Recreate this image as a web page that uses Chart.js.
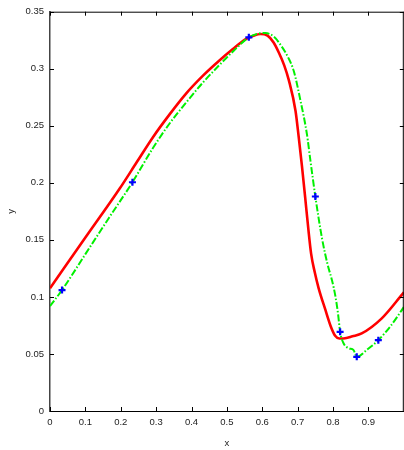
<!DOCTYPE html>
<html>
<head>
<meta charset="utf-8">
<script src="https://cdn.jsdelivr.net/npm/chart.js@4.4.1/dist/chart.umd.min.js"></script>
<style>
html,body{margin:0;padding:0;background:#fff;overflow:hidden;width:404px;height:450px;}
#wrap{width:410px;height:450px;}
</style>
</head>
<body>
<div id="wrap"><canvas id="c" width="410" height="450"></canvas></div>
<script>
// Red solid curve
const redX = [0, 0.1, 0.197, 0.245, 0.291, 0.338, 0.384, 0.431, 0.478, 0.516, 0.553, 0.575, 0.595, 0.615, 0.632, 0.647, 0.662, 0.675, 0.694, 0.703, 0.712, 0.721, 0.730, 0.738, 0.748, 0.759, 0.778, 0.795, 0.806, 0.818, 0.83, 0.855, 0.881, 0.937, 1.0];
const redY = [0.1076, 0.152, 0.195, 0.218, 0.240, 0.260, 0.278, 0.2935, 0.307, 0.317, 0.326, 0.329, 0.3305, 0.329, 0.323, 0.314, 0.303, 0.290, 0.263, 0.240, 0.215, 0.188, 0.160, 0.138, 0.122, 0.108, 0.089, 0.073, 0.066, 0.0635, 0.0636, 0.0655, 0.068, 0.081, 0.104];
// Green dash-dot curve
const greenX = [0, 0.034, 0.1, 0.166, 0.233, 0.291, 0.338, 0.384, 0.431, 0.478, 0.52, 0.562, 0.585, 0.609, 0.633, 0.656, 0.673, 0.689, 0.708, 0.726, 0.736, 0.750, 0.769, 0.785, 0.797, 0.807, 0.814, 0.820, 0.830, 0.845, 0.858, 0.867, 0.897, 0.928, 0.964, 1.0];
const greenY = [0.092, 0.106, 0.1375, 0.169, 0.2005, 0.2305, 0.252, 0.270, 0.2875, 0.303, 0.316, 0.3275, 0.3305, 0.3313, 0.328, 0.319, 0.310, 0.298, 0.272, 0.243, 0.2196, 0.188, 0.151, 0.128, 0.1146, 0.100, 0.0855, 0.0694, 0.0592, 0.055, 0.0534, 0.0475, 0.054, 0.0621, 0.075, 0.091];
// Blue "+" markers
const blueX = [0.034, 0.233, 0.562, 0.750, 0.820, 0.867, 0.928];
const blueY = [0.106, 0.2005, 0.3275, 0.188, 0.0694, 0.0475, 0.0621];
// Axis settings
const xRange = [0, 1];
const yRange = [0, 0.35];
const xStep = 0.1;
const yStep = 0.05;

const pts = (xs, ys) => xs.map((x, i) => ({x: x, y: ys[i]}));
const fmt = v => String(Math.round(v * 100) / 100);
const FONT = {family: 'Liberation Sans, Arial, sans-serif', size: 9.5};

const tickPlugin = {
  id: 'inTicks',
  afterDraw(chart) {
    const ctx = chart.ctx, a = chart.chartArea;
    const xs = chart.scales.x, ys = chart.scales.y;
    ctx.save();
    ctx.lineWidth = 1;
    ctx.strokeStyle = '#000';
    ctx.beginPath();
    ctx.moveTo(a.left, a.top + 0.5); ctx.lineTo(a.right, a.top + 0.5);
    ctx.moveTo(a.right - 0.5, a.top); ctx.lineTo(a.right - 0.5, a.bottom);
    xs.ticks.forEach(t => {
      const p = Math.round(xs.getPixelForValue(t.value)) + 0.5;
      ctx.moveTo(p, a.bottom); ctx.lineTo(p, a.bottom - 4);
      ctx.moveTo(p, a.top); ctx.lineTo(p, a.top + 4);
    });
    ys.ticks.forEach(t => {
      const p = Math.round(ys.getPixelForValue(t.value)) + 0.5;
      ctx.moveTo(a.left, p); ctx.lineTo(a.left + 4, p);
      ctx.moveTo(a.right, p); ctx.lineTo(a.right - 4, p);
    });
    ctx.stroke();
    ctx.restore();
  }
};

new Chart(document.getElementById('c'), {
  type: 'scatter',
  data: {
    datasets: [
      {data: pts(blueX, blueY), showLine: false, pointStyle: 'cross', pointRadius: 3.5, pointBorderWidth: 2.2, borderColor: '#0000ff', backgroundColor: '#0000ff'},
      {data: pts(greenX, greenY), showLine: true, pointRadius: 0, borderColor: '#00f000', borderWidth: 2, borderDash: [7, 2, 1.5, 2], cubicInterpolationMode: 'monotone'},
      {data: pts(redX, redY), showLine: true, pointRadius: 0, borderColor: '#ff0000', borderWidth: 2.6, cubicInterpolationMode: 'monotone'}
    ]
  },
  options: {
    responsive: false,
    animation: false,
    layout: {padding: {top: 11, right: 4.4, left: 0, bottom: 0}},
    plugins: {legend: {display: false}, tooltip: {enabled: false}},
    scales: {
      x: {
        type: 'linear', min: xRange[0], max: xRange[1],
        grid: {display: false, drawTicks: false},
        border: {display: true, color: '#000', width: 1},
        ticks: {stepSize: xStep, color: '#222', font: FONT, padding: 6, maxRotation: 0,
          callback: v => (v >= 1 ? '' : fmt(v))},
        title: {display: true, text: 'x', color: '#222', font: FONT, padding: {top: 4, bottom: 1}},
        afterFit: s => { s.height = 39; }
      },
      y: {
        type: 'linear', min: yRange[0], max: yRange[1],
        grid: {display: false, drawTicks: false},
        border: {display: true, color: '#444', width: 1.5},
        ticks: {stepSize: yStep, color: '#222', font: FONT, padding: 6, callback: v => fmt(v)},
        title: {display: true, text: 'y', color: '#222', font: FONT, padding: {top: 6, bottom: 0}},
        afterFit: s => { s.width = 50; }
      }
    }
  },
  plugins: [tickPlugin]
});
</script>
</body>
</html>
